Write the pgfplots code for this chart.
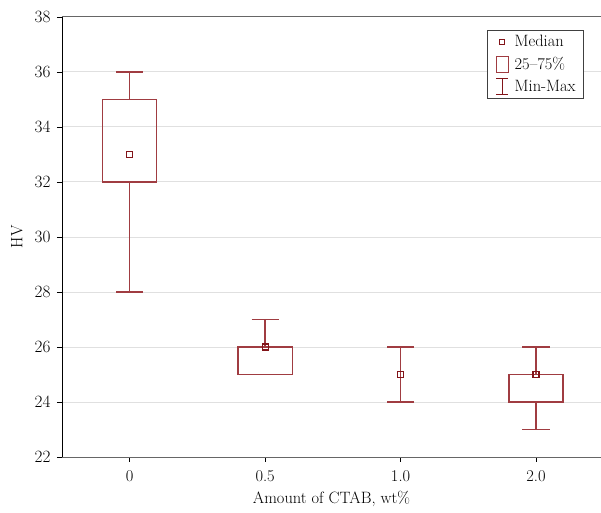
\documentclass[border=0pt]{standalone}
\usepackage{pgfplots}
\pgfplotsset{compat=1.18}
\usepgfplotslibrary{statistics}
\definecolor{boxred}{RGB}{160,60,65}
\definecolor{medred}{RGB}{130,20,25}
\begin{document}
\begin{tikzpicture}[font=\fontsize{16.5}{19}\selectfont]
\begin{axis}[name=ax,
  scale only axis, width=539bp, height=440bp,
  xmin=-0.5, xmax=3.48, ymin=22, ymax=38,
  xtick={0,1,2,3}, xticklabels={0,0.5,1.0,2.0},
  ytick={22,24,...,38},
  axis x line=box, axis y line=left, axis line style={-},
  x axis line style={black!60, line width=1pt},
  y axis line style={black, line width=0.8pt},
  tick align=outside, major tick length=5bp,
  tick style={black, line width=0.8pt},
  xtick pos=bottom, ytick pos=left,
  yticklabel style={xshift=-3bp},
  xticklabel style={yshift=-5bp},
  ymajorgrids, grid style={black!12, line width=1pt},
  xlabel={Amount of CTAB, wt\%}, ylabel={HV},
  xlabel style={at={(axis description cs:0.5,-0.095)}, anchor=center},
  ylabel style={at={(axis description cs:-0.0835,0.5)}, anchor=center},
  boxplot/draw direction=y,
  boxplot/every box/.style={draw=boxred, line width=1.2pt},
  boxplot/every whisker/.style={draw=boxred, line width=1.3pt},
  boxplot/every median/.style={draw=none},
  legend style={at={(1,1)}, anchor=north east, xshift=-17bp, yshift=-13bp,
    draw=black!75, line width=0.8pt, cells={anchor=west},
    font=\fontsize{16.5}{19}\selectfont, row sep=5bp, inner xsep=6bp,
    inner ysep=3bp},
]
\addlegendimage{legend image code/.code={
  \path (0bp,0bp) (18bp,0bp);
  \draw[medred, line width=0.9pt] (5.5bp,-2.5bp) rectangle (10.5bp,2.5bp);}}
\addlegendentry{Median}
\addlegendimage{legend image code/.code={
  \path (0bp,0bp) (18bp,0bp);
  \draw[boxred, line width=0.9pt] (2bp,-8bp) rectangle (14bp,8bp);}}
\addlegendentry{25--75\%}
\addlegendimage{legend image code/.code={
  \path (0bp,0bp) (18bp,0bp);
  \draw[medred, line width=0.9pt] (2bp,-8bp)--(14bp,-8bp)
    (8bp,-8bp)--(8bp,8bp) (2bp,8bp)--(14bp,8bp);}}
\addlegendentry{Min-Max}

\addplot+[boxplot prepared={draw position=0, lower whisker=28,
  lower quartile=32, median=33, upper quartile=35, upper whisker=36,
  box extend=0.4, whisker extend=0.2},
  draw=boxred, solid, mark=none, line width=1.2pt] coordinates {};
\addplot+[boxplot prepared={draw position=1, lower whisker=25,
  lower quartile=25, median=26, upper quartile=26, upper whisker=27,
  box extend=0.4, whisker extend=0.2},
  draw=boxred, solid, mark=none, line width=1.2pt] coordinates {};
\addplot+[boxplot prepared={draw position=2, lower whisker=24,
  lower quartile=25, median=25, upper quartile=25, upper whisker=26,
  box extend=0.4, whisker extend=0.2, every box/.style={draw=none}},
  draw=boxred, solid, mark=none, line width=1.2pt] coordinates {};
\addplot+[boxplot prepared={draw position=3, lower whisker=23,
  lower quartile=24, median=25, upper quartile=25, upper whisker=26,
  box extend=0.4, whisker extend=0.2},
  draw=boxred, solid, mark=none, line width=1.2pt] coordinates {};

\addplot[only marks, mark=square, mark size=3bp,
  mark options={draw=medred, line width=1.1pt}]
  coordinates {(0,33) (1,26) (2,25) (3,25)};
\end{axis}
\pgfresetboundingbox
\path[use as bounding box] ([shift={(-62bp,-56bp)}]ax.south west)
  rectangle ([shift={(0bp,17bp)}]ax.north east);
\end{tikzpicture}
\end{document}
